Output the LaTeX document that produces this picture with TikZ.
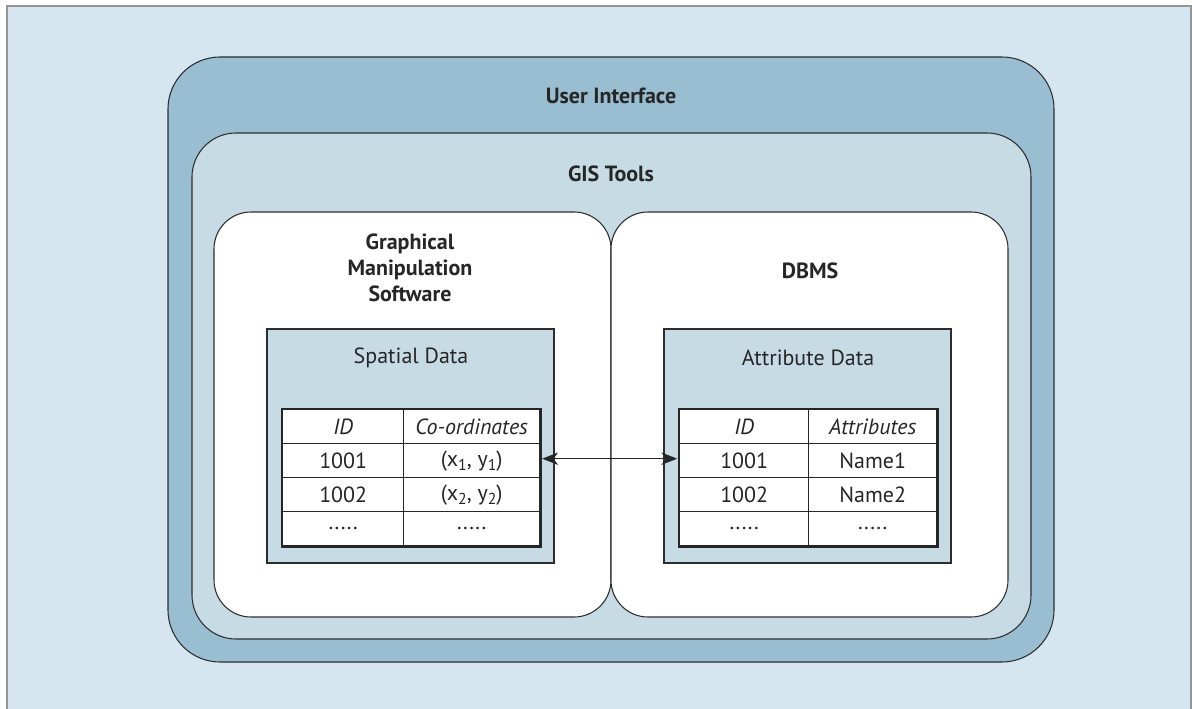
\documentclass[tikz,border=0pt]{standalone}
\usepackage{fontspec}
\setmainfont{PT Sans}
\usetikzlibrary{positioning,calc,fit,arrows.meta}
\definecolor{GISBack}{RGB}{213,230,240}
\definecolor{GISOuter}{RGB}{153,189,209}
\definecolor{GISInner}{RGB}{199,219,229}
\definecolor{GISLine}{RGB}{45,45,45}
\definecolor{GISFrame}{RGB}{150,150,150}
\newcommand{\celldots}{.....}
\newcommand{\lowsub}[1]{\raisebox{-0.45ex}{\fontsize{9}{10}\selectfont #1}}

\begin{document}
\begin{tikzpicture}[x=0.02cm, y=-0.02cm,
    layer/.style={draw=GISLine, line width=0.6pt, rounded corners=#1, inner sep=0pt, outer sep=0pt},
    title/.style={font=\fontsize{12.5}{14.8}\selectfont\bfseries, text=black!85, align=center},
    plain/.style={font=\fontsize{12.5}{14.8}\selectfont, text=black!85},
    cell/.style={draw=black!85, line width=0.8pt, minimum height=0.68cm, inner sep=0pt,
      anchor=north west, font=\fontsize{12.5}{14}\selectfont, text=black!85}]
  \useasboundingbox (0,0) rectangle (1192,709);

  % Background
  \fill[white] (0,0) rectangle (1192,709);
  \draw[GISFrame, fill=GISBack, line width=0.8pt] (7,6) rectangle (1191,716);

  % Nested layers
  \node[layer=1.04cm, fill=GISOuter, fit={(168,57) (1054,662)}] (ui) {};
  \node[layer=0.88cm, fill=GISInner, fit={(192,133) (1031,639)}] (gis) {};
  \node[layer=0.74cm, fill=white, fit={(214,212) (611,617)}] (gms) {};
  \node[layer=0.74cm, fill=white, fit={(611,212) (1008,617)}] (dbms) {};

  \node[title] (uilabel) at (611,96) {User Interface};
  \node[title] (gislabel) at (611,174) {GIS Tools};
  \node[title] (gmslabel) at (410,268) {Graphical\\Manipulation\\Software};
  \node[title] (dbmslabel) at (810,271) {DBMS};

  % Data panels
  \node[layer=0pt, fill=GISInner, fit={(267,329) (554,563)}] (spatial) {};
  \node[layer=0pt, fill=GISInner, fit={(664,329) (951,563)}] (attrib) {};
  \node[plain] (spatiallabel) at (411,358) {Spatial Data};
  \node[plain] (attriblabel) at (808,358) {Attribute Data};

  % Tables
  \foreach \ida/\val [count=\i from 0] in {\textit{ID}/\textit{Co-ordinates},
      1001/{(x\lowsub{1}, y\lowsub{1})},
      1002/{(x\lowsub{2}, y\lowsub{2})}, \celldots/\celldots} {
    \node[cell, fill=white, minimum width=2.42cm] (sp-\i-a) at (282,409+34*\i) {\ida};
    \node[cell, fill=white, minimum width=2.72cm] (sp-\i-b) at (403,409+34*\i) {\val};
  }
  \foreach \ida/\val [count=\i from 0] in {\textit{ID}/\textit{Attributes},
      1001/Name1, 1002/Name2, \celldots/\celldots} {
    \node[cell, fill=white, minimum width=2.58cm] (at-\i-a) at (679,409+34*\i) {\ida};
    \node[cell, fill=white, minimum width=2.56cm] (at-\i-b) at (808,409+34*\i) {\val};
  }
  \draw[black!85, line width=1.3pt] (sp-0-a.north west) rectangle (sp-3-b.south east);
  \draw[black!85, line width=1.3pt] (at-0-a.north west) rectangle (at-3-b.south east);

  % Link between tables
  \draw[{Stealth[length=9pt,width=7pt,inset=2.5pt]}-{Stealth[length=9pt,width=7pt,inset=2.5pt]},
    line width=0.6pt, black!85, shorten <=1pt, shorten >=1pt]
    ([yshift=0.04cm]sp-1-b.east) -- ([yshift=0.04cm]at-1-a.west);
\end{tikzpicture}
\end{document}
